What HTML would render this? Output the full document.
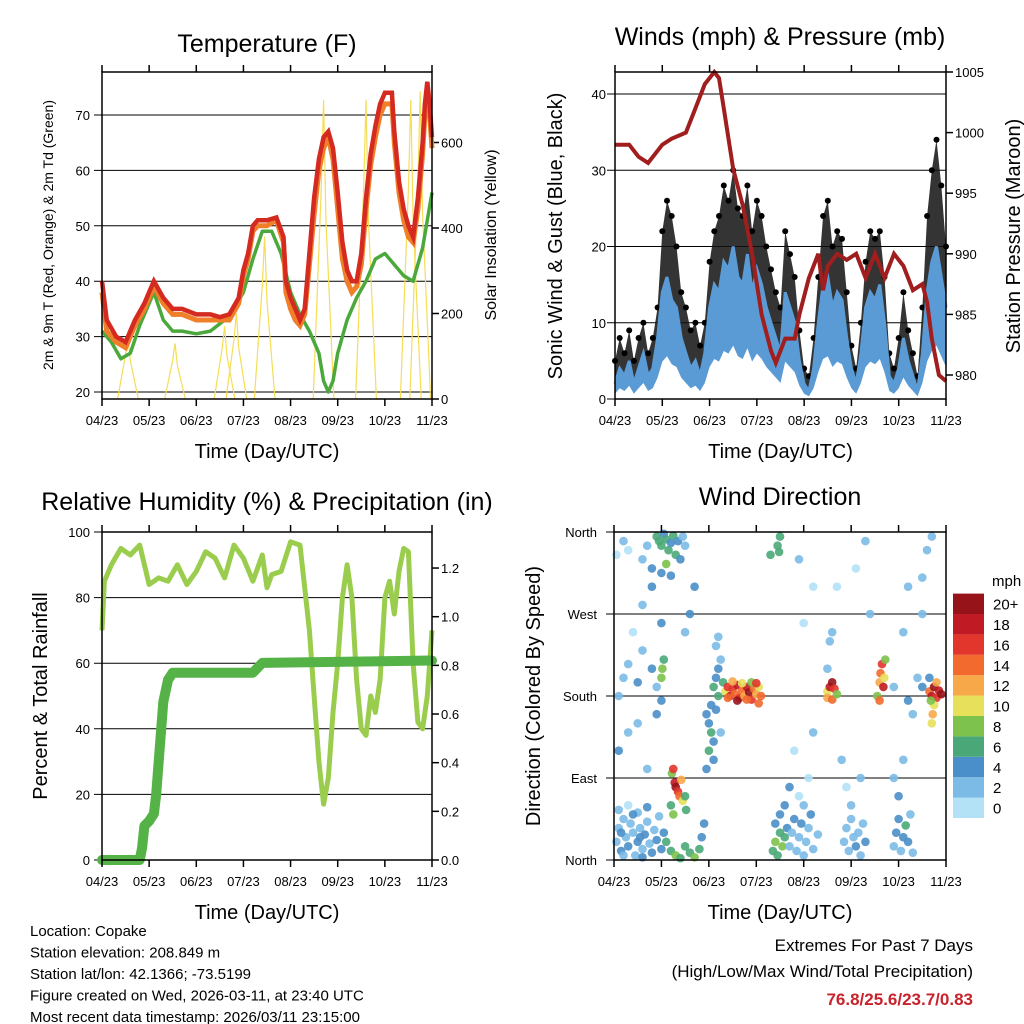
<!DOCTYPE html>
<html><head><meta charset="utf-8"><style>
html,body{margin:0;padding:0;background:#fff;}
svg{display:block;font-family:"Liberation Sans",Arial,sans-serif;}
</style></head><body>
<svg id="root" width="1024" height="1024" viewBox="0 0 1024 1024"></svg>
<script>
// ===== DATA =====
const dateLabels=["04/23","05/23","06/23","07/23","08/23","09/23","10/23","11/23"];
const tempTime=[0,0.1,0.3,0.5,0.7,0.9,1.0,1.1,1.3,1.5,1.7,2.0,2.3,2.5,2.7,2.9,3.0,3.1,3.2,3.3,3.5,3.7,3.85,3.9,4.0,4.1,4.2,4.3,4.4,4.5,4.6,4.7,4.8,4.9,5.0,5.1,5.2,5.3,5.4,5.5,5.6,5.7,5.8,5.9,6.0,6.15,6.2,6.3,6.4,6.5,6.6,6.7,6.8,6.85,6.9,6.95,7.0];
const temp2m=[40,33,30,29,33,36,38,40,37,35,35,34,34,33.5,34,37,42,45,50,51,51,51.5,48,40,37,35,33,35,45,55,62,66,67,64,56,47,42,40,40,45,55,63,68,72,74,74,67,58,53,50,48,55,65,72,76,72,66];
const temp9m=[38,31,29,28,32,35,37,39,36,34,34,33,33,33,33,36,41,44,49,50,50,51,47,38,35,33,32,34,43,52,60,64,66,62,53,44,40,38,39,43,53,61,66,70,72,72,65,56,51,48,47,53,63,70,74,70,64];
const dewTime=[0,0.2,0.4,0.6,0.8,1.0,1.1,1.3,1.5,1.7,2.0,2.3,2.6,2.8,3.0,3.2,3.4,3.6,3.8,4.0,4.2,4.4,4.6,4.7,4.8,4.9,5.0,5.2,5.4,5.6,5.8,6.0,6.2,6.4,6.6,6.8,7.0];
const dewPoint=[31,29,26,27,32,36,38,33,31,31,30.5,31,33,35,38,44,49,49,45,38,34,31,27,22,20,22,27,33,37,40,44,45,43,41,40,46,56];
const solarPeakTime=[0.55,1.55,2.6,2.85,3.45,4.7,5.6,6.55,6.75];
const solarPeak=[150,130,170,200,380,700,700,700,720];
const windStep=0.1;
const windSpeed=[2,4,3,5,2,4,6,3,4,8, 14,16,13,12,8,6,4,5,3,6, 12,15,14,18,17,20,16,15,19,14, 17,15,12,10,8,6,14,12,10,5, 2,1,4,10,15,16,12,14,13,8, 4,2,6,12,14,13,15,10,3,2, 4,8,5,3,1,6,14,18,20,16, 12];
const windGust=[5,8,6,9,5,8,10,6,8,12, 22,26,24,20,14,12,9,10,7,10, 18,22,24,28,26,30,25,24,28,22, 26,24,20,17,14,12,22,19,16,9, 4,3,8,16,24,26,20,22,21,14, 7,4,10,18,22,21,22,16,6,4, 8,14,9,6,3,12,24,30,34,28, 20];
const presTime=[0,0.3,0.5,0.7,1.0,1.2,1.5,1.7,1.9,2.1,2.2,2.3,2.5,2.7,2.9,3.1,3.3,3.4,3.6,3.8,3.9,4.1,4.3,4.4,4.5,4.7,4.9,5.1,5.3,5.5,5.7,5.9,6.1,6.3,6.5,6.6,6.7,6.85,7.0];
const pressure=[999,999,998,997.5,999,999.5,1000,1002,1004,1005,1004.5,1002,997,994,990,985,982,981,983,983,985,988,990,987,989,990,989.5,990,988,990,988,990,989,987,987.5,986,983,980,979.5];
const rhTime=[0,0.05,0.2,0.4,0.6,0.8,1.0,1.2,1.4,1.6,1.8,2.0,2.2,2.4,2.6,2.8,3.0,3.2,3.4,3.5,3.6,3.8,4.0,4.2,4.4,4.5,4.6,4.7,4.8,4.9,5.0,5.1,5.2,5.3,5.4,5.5,5.6,5.7,5.8,5.9,6.0,6.1,6.2,6.3,6.4,6.5,6.6,6.7,6.8,6.9,7.0];
const relHum=[70,85,90,95,93,96,84,86,85,90,84,88,94,92,86,96,92,85,93,83,87,88,97,96,70,50,30,17,25,45,60,80,90,80,55,40,38,50,45,55,80,85,75,88,95,94,60,42,40,50,70];
const precTime=[0,0.8,0.85,0.9,1.0,1.1,1.15,1.2,1.3,1.4,1.5,1.7,3.2,3.4,7.0];
const precip=[0,0,0.05,0.14,0.16,0.19,0.27,0.4,0.65,0.74,0.77,0.77,0.77,0.81,0.82];
const dirTime=[0.05,0.1,0.15,0.2,0.25,0.3,0.35,0.4,0.45,0.5,0.55,0.6,0.65,0.7,0.75,0.8,0.85,0.9,0.95,0.1,0.3,0.5,0.7,0.2,0.6,1.0,1.05,0.4,0.15,0.55,
0.9,0.95,1.0,1.05,1.1,1.15,1.2,1.25,1.3,1.35,1.4,1.45,0.7,0.6,0.8,1.0,0.2,0.3,0.05,1.2,1.1,1.5,
1.22,1.25,1.28,1.3,1.35,1.38,1.42,1.45,1.5,1.52,1.2,1.25,
1.1,1.2,1.3,1.4,1.5,1.6,1.7,1.8,1.85,1.9,
0.1,0.2,0.3,0.5,0.6,0.8,0.9,0.1,0.3,0.5,0.7,0.9,1.0,1.0,1.02,1.05,0.6,0.8,1.0,0.4,1.5,1.6,1.7,
1.95,2.0,2.05,2.1,2.15,2.2,2.1,2.15,2.2,2.25,2.05,2.0,2.3,1.95,2.1,2.25,2.15,2.2,
2.35,2.4,2.45,2.5,2.55,2.6,2.65,2.7,2.75,2.8,2.85,2.9,2.95,3.0,3.05,3.1,2.4,2.5,2.6,2.7,2.8,2.9,3.0,3.05,
3.35,3.4,3.45,3.5,3.55,3.4,3.5,3.6,3.45,3.5,3.48,3.3,3.6,3.65,
3.7,3.75,3.8,3.85,3.9,3.95,4.0,4.05,4.1,4.15,4.2,4.3,4.0,3.9,4.1,3.8,4.2,3.7,4.0,4.2,3.9,
4.5,4.55,4.6,4.65,4.5,4.6,4.7,4.55,4.6,4.5,
4.85,4.9,4.95,5.0,5.05,5.1,5.15,5.2,5.25,5.3,5.0,4.9,5.2,4.8,5.1,4.7,5.3,5.4,
5.55,5.6,5.62,5.65,5.68,5.7,5.6,5.72,
5.9,5.95,6.0,6.05,6.1,6.15,6.2,6.25,6.3,6.0,5.9,6.1,5.9,6.2,6.3,6.1,6.2,6.5,6.6,6.7,6.5,
6.65,6.7,6.75,6.8,6.85,6.9,6.75,6.72,6.7,6.68,6.8,6.65,6.5,6.4];
const dirDeg=[20,35,10,45,25,15,40,30,5,20,35,12,28,42,18,8,33,22,48,55,60,52,58,5,3,12,30,50,30,25,
355,350,345,358,352,340,348,356,335,350,330,355,345,330,320,315,350,340,335,312,325,345,
95,100,85,80,75,70,88,65,70,55,60,50,
20,10,5,2,15,8,3,12,25,40,
180,200,215,195,230,210,190,120,140,150,100,160,175,200,210,220,280,300,260,250,250,270,300,
160,150,140,130,165,180,190,200,210,220,170,120,195,100,110,140,235,245,
185,190,180,188,182,192,178,186,180,190,184,176,188,182,190,180,178,196,175,194,176,195,194,172,
10,20,5,30,15,40,50,25,345,355,338,335,60,35,
15,30,45,10,25,40,5,20,35,50,12,28,60,70,90,120,140,80,260,300,330,
185,190,195,188,178,176,182,240,250,210,
20,35,10,45,25,15,30,5,40,20,60,80,90,110,320,300,350,270,
180,195,205,215,190,200,175,220,
15,30,45,10,25,38,20,50,8,70,90,110,190,175,160,250,300,310,340,355,270,
185,180,190,178,186,182,170,160,150,175,195,200,190,200];
const dirSpeed=[2,3,4,2,3,4,3,2,3,4,2,3,4,3,2,4,3,4,2,2,1,3,4,3,4,5,4,4,5,5,
6,7,6,5,7,6,5,7,6,4,4,3,3,3,4,4,2,1,1,5,8,3,
9,16,18,20,17,14,12,10,7,6,7,8,
6,7,8,6,7,6,8,6,4,4,
3,2,2,4,3,4,3,4,2,3,2,4,4,8,8,6,2,4,4,1,3,4,4,
4,4,6,4,4,6,7,4,4,3,4,6,6,4,4,3,3,2,
10,16,18,16,14,18,16,14,12,18,20,16,14,12,10,14,14,12,20,10,14,8,16,14,
6,8,7,6,8,4,4,6,6,6,6,6,4,4,
2,2,4,3,2,4,3,2,3,4,2,3,2,1,1,1,2,4,1,1,2,
10,18,20,16,12,14,8,2,3,2,
2,2,3,2,3,4,2,3,2,4,2,1,2,2,1,1,2,2,
8,12,14,16,18,10,14,8,
3,4,4,3,5,6,4,2,3,4,2,2,2,4,2,2,2,2,3,2,2,
14,18,20,16,18,20,10,12,10,8,12,4,4,2];
const speedBinLabels=["0","2","4","6","8","10","12","14","16","18","20+"];
const speedColors=["#b3e2f7","#7cbbe6","#4a8fc9","#4aa878","#7dc24c","#e6e05a","#f7a94a","#f26a2e","#e2352b","#c01b24","#961419"];

// ===== HELPERS =====
const NS="http://www.w3.org/2000/svg";
const root=document.getElementById('root');
function mk(tag,attrs,parent){const e=document.createElementNS(NS,tag);for(const k in attrs)e.setAttribute(k,attrs[k]);(parent||root).appendChild(e);return e;}
function txt(x,y,s,size,anchor,parent,extra){const e=mk('text',Object.assign({x:x,y:y,'font-size':size,'text-anchor':anchor||'middle',fill:'#000'},extra||{}),parent);e.textContent=s;return e;}
function pts(ts,vs,fx,fy){return ts.map((t,i)=>fx(t).toFixed(1)+','+fy(vs[i]).toFixed(1)).join(' ');}

const P1={x0:102,x1:432,y0:72,y1:399};
const P2={x0:615,x1:946,y0:72,y1:399};
const P3={x0:102,x1:432,y0:532,y1:860};
const P4={x0:614,x1:946,y0:532,y1:860};
const xs=(P)=>(t)=>P.x0+t*(P.x1-P.x0)/7;

function frame(P,name,g){
  const r=mk('rect',{x:P.x0,y:P.y0,width:P.x1-P.x0,height:P.y1-P.y0,fill:'none',stroke:'#000','stroke-width':1.5},g);
  
  
  const fx=xs(P);
  dateLabels.forEach((l,i)=>{
    const x=fx(i);
    mk('line',{x1:x,x2:x,y1:P.y1,y2:P.y1+7,stroke:'#000','stroke-width':1.5},g);
    mk('line',{x1:x,x2:x,y1:P.y0,y2:P.y0-7,stroke:'#000','stroke-width':1.5},g);
    const t=txt(x,P.y1+26,l,13,'middle',g);
    
    
  });
  const xt=txt((P.x0+P.x1)/2,P.y1+59,'Time (Day/UTC)',20,'middle',g);
  
  
}
function hgrid(P,ys,labels,g,side,lx){
  ys.forEach((y,i)=>{
    mk('line',{x1:P.x0-8,x2:P.x1,y1:y,y2:y,stroke:'#000','stroke-width':1},g);
    if(labels){const t=txt(lx,y+5,labels[i],13,'end',g);
      
      }
  });
}
function rightTicks(P,ys,labels,g){
  ys.forEach((y,i)=>{
    mk('line',{x1:P.x1,x2:P.x1+7,y1:y,y2:y,stroke:'#000','stroke-width':1.5},g);
    const t=txt(P.x1+9,y+5,labels[i],13,'start',g);
    
    
  });
}
function vtitle(x,y,s,size,g,name){const t=txt(0,0,s,size,'middle',g,{transform:'translate('+x+','+y+') rotate(-90)'});
  
  return t;}

// ===== PANEL 1 =====
const g1=mk('g',{});


const x1=xs(P1), yT=v=>392-(v-20)*5.54, ySol=v=>399-v*0.4275;
hgrid(P1,[20,30,40,50,60,70].map(yT),["20","30","40","50","60","70"],g1,'l',90);
rightTicks(P1,[0,200,400,600].map(ySol),["0","200","400","600"],g1);
solarPeakTime.forEach((t,i)=>{
  const s=mk('polyline',{points:pts([t-0.22,t-0.05,t,t+0.05,t+0.22],[0,solarPeak[i]*0.7,solarPeak[i],solarPeak[i]*0.6,0],x1,ySol),fill:'none',stroke:'#f5dd55','stroke-width':1.2},g1);
  
  
});
const dl=mk('polyline',{points:pts(dewTime,dewPoint,x1,yT),fill:'none',stroke:'#4aa83c','stroke-width':3.5,'stroke-linejoin':'round'},g1);


const ol=mk('polyline',{points:pts(tempTime,temp9m,x1,yT),fill:'none',stroke:'#f07f2a','stroke-width':5},g1);


const rl=mk('polyline',{points:pts(tempTime,temp2m,x1,yT),fill:'none',stroke:'#d42a20','stroke-width':4.5},g1);


frame(P1,'temperature',g1);
const t1=txt(267,52,'Temperature (F)',25,'middle',g1);


vtitle(53,235,'2m & 9m T (Red, Orange) & 2m Td (Green)',14,g1,'temperature-y-title');
vtitle(496,235,'Solar Insolation (Yellow)',16,g1,'solar-y-title');

// ===== PANEL 2 =====
const g2=mk('g',{});


const x2=xs(P2), yW=v=>399-v*7.625, yP=p=>375-(p-980)*12.12;
hgrid(P2,[0,10,20,30,40].map(yW),["0","10","20","30","40"],g2,'l',606);
rightTicks(P2,[980,985,990,995,1000,1005].map(yP),["980","985","990","995","1000","1005"],g2);
const wt=windSpeed.map((v,i)=>i*windStep);
const gb=mk('polygon',{points:pts(wt,windGust,x2,yW)+' '+pts(wt.slice().reverse(),windSpeed.slice().reverse(),x2,yW),fill:'#111',opacity:0.85},g2);


windGust.forEach((v,i)=>{const c=mk('circle',{cx:x2(wt[i]).toFixed(1),cy:yW(v).toFixed(1),r:3,fill:'#000'},g2);
  
  });
const wb=mk('polygon',{points:pts(wt,windSpeed,x2,yW)+' '+pts(wt.slice().reverse(),windSpeed.slice().reverse().map(v=>v*0.35),x2,yW),fill:'#5b9bd5'},g2);


const wl=mk('polyline',{points:pts(wt,windSpeed,x2,yW),fill:'none',stroke:'#5b9bd5','stroke-width':3},g2);


const pl=mk('polyline',{points:pts(presTime,pressure,x2,yP),fill:'none',stroke:'#a11e1e','stroke-width':4},g2);


frame(P2,'winds',g2);
const t2=txt(780,45,'Winds (mph) & Pressure (mb)',25,'middle',g2);


vtitle(562,236,'Sonic Wind & Gust (Blue, Black)',20,g2,'wind-y-title');
vtitle(1020,236,'Station Pressure (Maroon)',20,g2,'pressure-y-title');

// ===== PANEL 3 =====
const g3=mk('g',{});


const x3=xs(P3), yRH=v=>860-v*3.28, yPr=v=>860-v*243.3;
hgrid(P3,[0,20,40,60,80,100].map(yRH),["0","20","40","60","80","100"],g3,'l',90);
rightTicks(P3,[0,0.2,0.4,0.6,0.8,1.0,1.2].map(yPr),["0.0","0.2","0.4","0.6","0.8","1.0","1.2"],g3);
const rh=mk('polyline',{points:pts(rhTime,relHum,x3,yRH),fill:'none',stroke:'#9acd4e','stroke-width':5,'stroke-linejoin':'round'},g3);


const pr=mk('polyline',{points:pts(precTime,precip,x3,yPr),fill:'none',stroke:'#55b246','stroke-width':10,'stroke-linejoin':'round','stroke-linecap':'round'},g3);


frame(P3,'humidity',g3);
const t3=txt(267,510,'Relative Humidity (%) & Precipitation (in)',25,'middle',g3);


vtitle(47,696,'Percent & Total Rainfall',20,g3,'humidity-y-title');

// ===== PANEL 4 =====
const g4=mk('g',{});


const x4=xs(P4), yD=d=>860-d*328/360;
hgrid(P4,[0,90,180,270,360].map(yD),["North","East","South","West","North"],g4,'l',597);
dirTime.forEach((t,i)=>{
  const b=Math.min(10,Math.floor(dirSpeed[i]/2));
  const c=mk('circle',{cx:x4(t).toFixed(1),cy:yD(dirDeg[i]).toFixed(1),r:4.3,fill:speedColors[b],opacity:0.9},g4);
  
  
});
frame(P4,'wind-direction',g4);
const t4=txt(780,505,'Wind Direction',25,'middle',g4);


vtitle(540,696,'Direction (Colored By Speed)',20,g4,'direction-y-title');
const cb=mk('g',{},g4);


speedColors.forEach((c,i)=>{
  const y=797.6-i*20.4;
  const r=mk('rect',{x:953,y:y,width:31,height:20.4,fill:c},cb);
  
  
  const l=txt(993,y+16,speedBinLabels[i],15,'start',cb);
  
  
});
const mph=txt(992,586,'mph',15,'start',cb);



// ===== FOOTER =====
const info=["Location: Copake","Station elevation: 208.849 m","Station lat/lon: 42.1366; -73.5199","Figure created on Wed, 2026-03-11, at 23:40 UTC","Most recent data timestamp: 2026/03/11 23:15:00"];
info.forEach((s,i)=>{const t=txt(30,936+i*21.5,s,15,'start');
  
  });
const e1=txt(973,951,'Extremes For Past 7 Days',17,'end');


const e2=txt(973,977,'(High/Low/Max Wind/Total Precipitation)',17,'end');


const e3=txt(973,1005,'76.8/25.6/23.7/0.83',17,'end',null,{fill:'#c8232c','font-weight':'bold'});


</script>
</body></html>
